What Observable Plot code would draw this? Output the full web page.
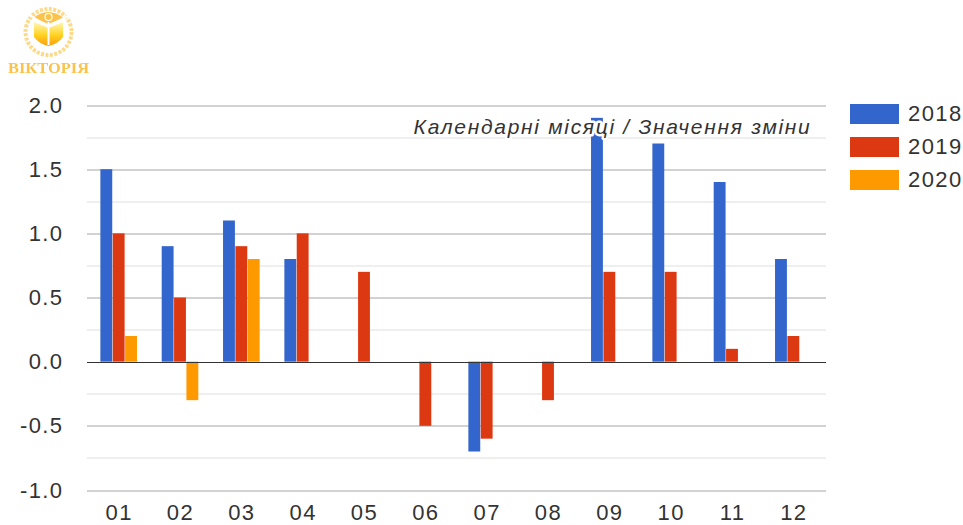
<!DOCTYPE html>
<html><head><meta charset="utf-8">
<script src="https://cdn.jsdelivr.net/npm/d3@7"></script>
<script src="https://cdn.jsdelivr.net/npm/@observablehq/plot@0.6"></script>
<style>
html,body{margin:0;padding:0;background:#fff}
#wrap{position:relative;width:963px;height:525px;overflow:hidden;font-family:"Liberation Sans",Arial,sans-serif}
#logo{position:absolute;left:0;top:0;filter:blur(0.5px)}
#wrap svg text{letter-spacing:1.4px}
#wrap svg .note text{letter-spacing:1.7px}
.lg{position:absolute;left:850px;width:49px;height:20px}
.lt{position:absolute;left:908px;font-size:22px;line-height:24px;color:#333;letter-spacing:1.4px}
</style></head><body>
<div id="wrap"></div>
<script>
const months = ["01","02","03","04","05","06","07","08","09","10","11","12"];
const years = ["2018","2019","2020"];
const colors = ["#3366cc","#dc3912","#ff9900"];
const v2018 = [1.5,0.9,1.1,0.8,null,null,-0.7,null,1.9,1.7,1.4,0.8];
const v2019 = [1.0,0.5,0.9,1.0,0.7,-0.5,-0.6,-0.3,0.7,0.7,0.1,0.2];
const v2020 = [0.2,-0.3,0.8,null,null,null,null,null,null,null,null,null];
const majorTicks = [-1,-0.5,0,0.5,1,1.5,2];
const minorTicks = [-0.75,-0.25,0.25,0.75,1.25,1.75];
const note = "Календарні місяці / Значення зміни";
const series = [v2018,v2019,v2020];
const rows = series.flatMap((vals,i)=>vals.map((value,j)=>({month:months[j],year:years[i],value}))).filter(d=>d.value!==null);
const font = '"Liberation Sans",Arial,sans-serif';
const chart = Plot.plot({
  width:963,height:525,marginLeft:87,marginRight:137,marginTop:105,marginBottom:35,
  style:{fontFamily:font,fontSize:"22px",color:"#333",background:"#fff"},
  fx:{domain:months,padding:0,round:false,range:[88,824],label:null},
  x:{domain:years,paddingInner:0.04,paddingOuter:1,round:false,axis:null},
  y:{domain:[-1,2],label:null},
  marks:[
    Plot.ruleY(minorTicks,{stroke:"#efefef",strokeWidth:2,insetLeft:-1,insetRight:-2,shapeRendering:"crispEdges"}),
    Plot.ruleY(majorTicks.filter(d=>d!==0),{stroke:"#d2d2d2",strokeWidth:2,insetLeft:-1,insetRight:-2,shapeRendering:"crispEdges"}),
    Plot.barY(rows,{fx:"month",x:"year",y:"value",fill:d=>colors[years.indexOf(d.year)]}),
    Plot.ruleY([0],{stroke:"#333333",strokeWidth:1,insetLeft:-1,insetRight:-2,shapeRendering:"crispEdges"}),
    Plot.axisY({ticks:majorTicks,tickSize:0,tickPadding:25,tickFormat:d=>d.toFixed(1),label:null,fill:"#333"}),
    Plot.axisFx({anchor:"bottom",tickSize:0,tickPadding:14,label:null,fill:"#333"}),
    Plot.text([note],{fx:()=>"12",y:()=>1.83,frameAnchor:"right",dx:-13,textAnchor:"end",fontStyle:"italic",fontSize:21,fill:"#333",stroke:"#fff",strokeWidth:5,paintOrder:"stroke",text:d=>d,className:"note"})
  ]
});
const wrap=document.getElementById("wrap");
wrap.appendChild(chart);
wrap.insertAdjacentHTML("beforeend",`
<svg id="logo" width="100" height="80" viewBox="0 0 100 80">
<defs><linearGradient id="g" x1="0" y1="0" x2="0" y2="1"><stop offset="0" stop-color="#fff7b8"/><stop offset="0.55" stop-color="#ffd21e"/><stop offset="1" stop-color="#fb9d12"/></linearGradient></defs>
<circle cx="48.5" cy="32" r="23" fill="none" stroke="#fdd98a" stroke-width="4" stroke-dasharray="3 1.5"/>
<path d="M33 18 Q48 6 64 18 L48.5 24Z" fill="#fcc34a"/>
<path d="M34 22 L48.5 28 L63 22 L63 37 Q58 44 48.5 46 Q39 44 34 37Z" fill="url(#g)"/>
<path d="M29 15 L48.5 26 L70 15 M48.5 22 V45" fill="none" stroke="#fff" stroke-width="2"/>
<circle cx="48.5" cy="17" r="3.5" fill="none" stroke="#fff" stroke-width="1.2"/>
<text x="48.5" y="73" text-anchor="middle" font-family="Liberation Serif,serif" font-weight="bold" font-size="15" fill="#fcc34a" textLength="81" lengthAdjust="spacingAndGlyphs" style="letter-spacing:0">ВІКТОРІЯ</text>
</svg>`);
years.forEach((y,i)=>{
  wrap.insertAdjacentHTML("beforeend",`<div class="lg" style="top:${104+33*i}px;background:${colors[i]}"></div><div class="lt" style="top:${102+33*i}px">${y}</div>`);
});
</script>
</body></html>
